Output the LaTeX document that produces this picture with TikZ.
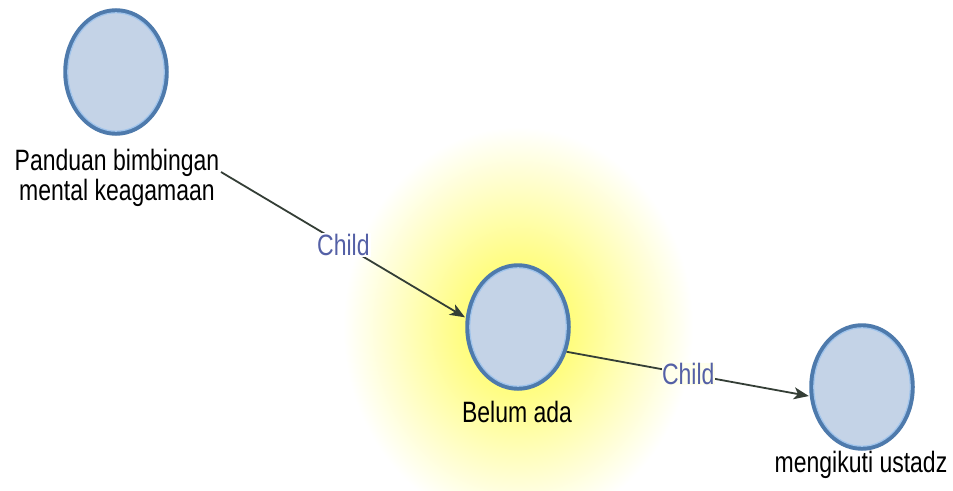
\documentclass[tikz,border=0pt]{standalone}
\usepackage{fontspec}
\usepackage{graphicx}
\setmainfont{Liberation Sans}
\usetikzlibrary{shapes.geometric,arrows.meta}
\definecolor{ringblue}{RGB}{78,122,172}
\definecolor{innerring}{RGB}{160,196,236}
\definecolor{fillblue}{RGB}{196,211,231}
\definecolor{edgecol}{RGB}{52,62,54}
\definecolor{childcol}{RGB}{84,96,166}
\definecolor{glow}{RGB}{255,252,70}
\definecolor{faintglow}{RGB}{255,255,236}
\newcommand{\tall}[1]{\scalebox{1}[1.28]{#1}}
\tikzset{
  circnode/.style={ellipse, minimum width=101pt, minimum height=123pt, inner sep=0pt,
    draw=ringblue, line width=4.5pt, fill=fillblue},
  lbltext/.style={inner sep=0pt, font=\fontsize{23}{23.5}\selectfont, text=black},
  childlbl/.style={inner sep=1pt, fill=white, font=\fontsize{23}{23.5}\selectfont, text=childcol},
  conn/.style={draw=edgecol, line width=1.8pt, -{Stealth[length=15pt,width=12pt,inset=4pt]}, shorten >=1pt}
}
\begin{document}
\begin{tikzpicture}[x=1pt,y=-1pt]
\useasboundingbox (0,0) rectangle (953,490);
\fill[white] (0,0) rectangle (953,490);
\begin{scope}
\clip (0,0) rectangle (953,490);
\shade[inner color=glow, outer color=white] (518,327) ellipse [x radius=175, y radius=200];
\end{scope}
% nodes
\node[circnode] (n1) at (116,72) {};
\node[circnode] (n2) at (518,327) {};
\node[circnode] (n3) at (862,387) {};
\foreach \n in {n1,n2,n3}{
  \draw[innerring, line width=1.2pt] (\n.center) ellipse [x radius=48.2pt, y radius=59.2pt];
}
% labels
\node[lbltext, anchor=base] (l1) at (117,170) {\tall{Panduan bimbingan}};
\node[lbltext, anchor=base] (l1b) at (117,200) {\tall{mental keagamaan}};
\node[lbltext, anchor=base] (l2) at (517,422) {\tall{Belum ada}};
\node[lbltext, anchor=base] (l3) at (861,472) {\tall{mengikuti ustadz}};
% connectors
\coordinate (e1s) at (221,172);
\draw[conn] (e1s) -- (n2.170) node[childlbl, midway] (c1) {\tall{Child}};
\draw[conn] (n2.-27) -- (n3.190) node[childlbl, midway, fill=faintglow, inner sep=0.3pt] (c2) {\tall{Child}};
\end{tikzpicture}
\end{document}
